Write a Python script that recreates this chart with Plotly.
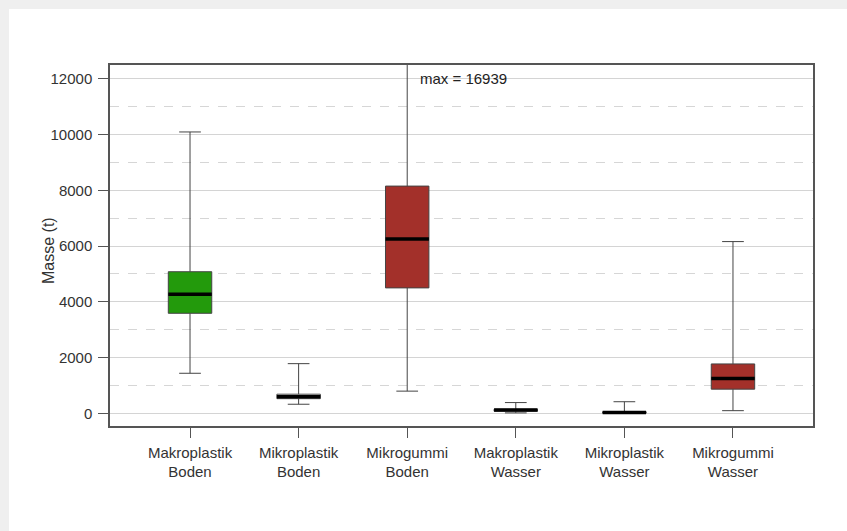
import plotly.graph_objects as go

categories = ["Makroplastik<br>Boden", "Mikroplastik<br>Boden", "Mikrogummi<br>Boden",
              "Makroplastik<br>Wasser", "Mikroplastik<br>Wasser", "Mikrogummi<br>Wasser"]
lower = [1440, 330, 800, 20, 0, 100]
q1 = [3590, 530, 4500, 80, 10, 870]
median = [4270, 600, 6250, 120, 30, 1250]
q3 = [5080, 690, 8150, 150, 60, 1775]
upper = [10090, 1785, 16939, 390, 420, 6160]
fills = ["#239a0c", "#ffffff", "#a3302a", "#ffffff", "#ffffff", "#a3302a"]
y_ticks = [0, 2000, 4000, 6000, 8000, 10000, 12000]
y_ticktext = ["0", "2000", "4000", "6000", "8000", "10000", "12000"]

FONT = "Liberation Sans, Arial, Helvetica, sans-serif"
BW = 0.4
xs = list(range(1, len(categories) + 1))

fig = go.Figure()
for i, x in enumerate(xs):
    fig.add_trace(go.Box(
        x=[x], q1=[q1[i]], median=[median[i]], q3=[q3[i]],
        lowerfence=[lower[i]], upperfence=[upper[i]],
        width=BW, whiskerwidth=0.5, fillcolor=fills[i],
        line=dict(color="#444444", width=1), boxpoints=False,
        showlegend=False, hoverinfo="skip"))
    fig.add_trace(go.Scatter(
        x=[x - BW / 2, x + BW / 2], y=[median[i], median[i]], mode="lines",
        line=dict(color="#000000", width=3.5), showlegend=False, hoverinfo="skip"))

fig.add_annotation(x=3.1, y=12000, xref="x", yref="y", text="max = 16939",
                   showarrow=False, xanchor="left", yanchor="middle",
                   font=dict(family=FONT, size=15, color="#222222"))

# y-axis title
fig.add_annotation(x=(48 - 110) / 703, y=(426 - 250) / 361, xref="paper", yref="paper",
                   text="Masse (t)", textangle=-90, showarrow=False,
                   xanchor="center", yanchor="middle",
                   font=dict(family=FONT, size=16, color="#333333"))

# white page panel over grey surround
fig.add_shape(type="rect", xref="paper", yref="paper",
              x0=(9 - 110) / 703, x1=2, y0=-1, y1=1 + (65 - 9) / 361,
              fillcolor="#ffffff", line=dict(width=0), layer="below")

fig.update_layout(
    width=847, height=531,
    margin=dict(l=110, r=34, t=65, b=105),
    paper_bgcolor="#efefef", plot_bgcolor="rgba(0,0,0,0)",
    font=dict(family=FONT, size=15, color="#333333"),
    xaxis=dict(range=[0.263, 6.737], tickvals=xs, ticktext=categories,
               showgrid=False, zeroline=False, showline=True, mirror=True,
               linecolor="#555555", linewidth=1.5, ticks="outside", ticklen=10,
               tickcolor="#555555", ticklabelstandoff=2,
               tickfont=dict(size=15, color="#333333")),
    yaxis=dict(range=[-450, 12490], tickvals=y_ticks, ticktext=y_ticktext,
               showgrid=True, gridcolor="#d4d4d4", gridwidth=1, zeroline=False,
               showline=True, mirror=True, linecolor="#555555", linewidth=1.5,
               ticks="outside", ticklen=10, tickcolor="#555555",
               ticklabelstandoff=3,
               tickfont=dict(size=15, color="#333333"),
               minor=dict(dtick=1000, tick0=0, showgrid=True, gridcolor="#d6d6d6",
                          griddash="dash", gridwidth=1, ticks="")),
)

fig.write_html("out.html", config={"displayModeBar": False},
               post_script="document.body.style.margin='0';document.body.style.overflow='hidden';")
